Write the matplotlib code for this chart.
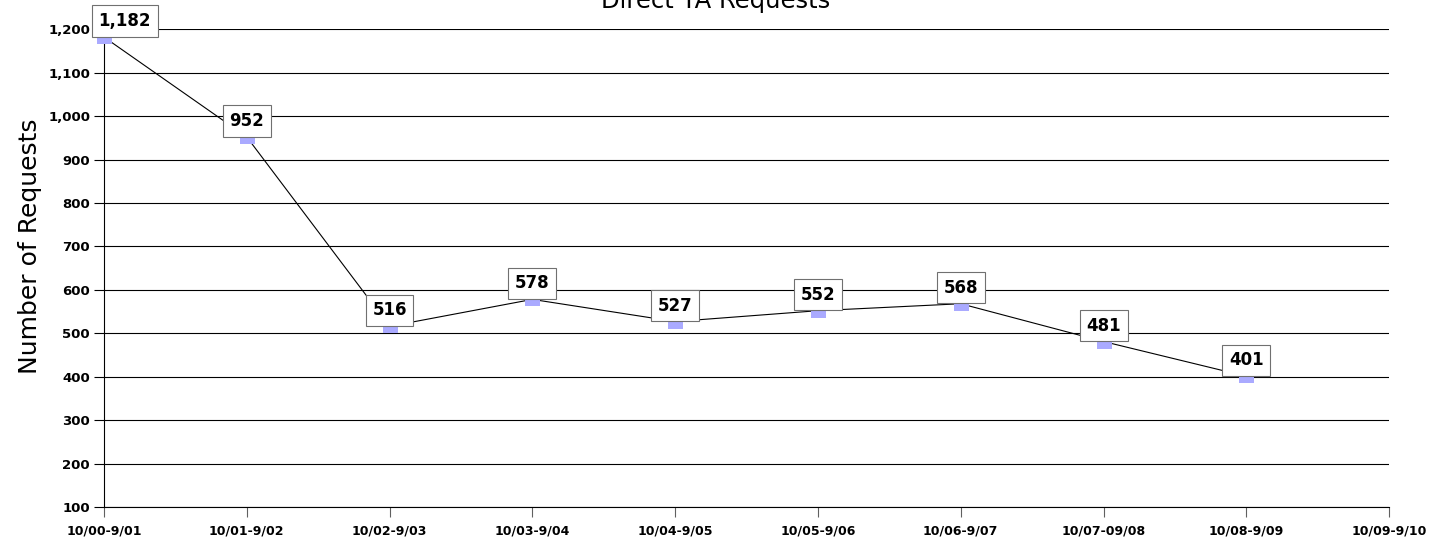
import matplotlib
matplotlib.use("Agg")
import matplotlib.pyplot as plt
from matplotlib.ticker import StrMethodFormatter

# data
periods = ["10/00-9/01", "10/01-9/02", "10/02-9/03", "10/03-9/04", "10/04-9/05",
           "10/05-9/06", "10/06-9/07", "10/07-09/08", "10/08-9/09", "10/09-9/10"]
requests = [1182, 952, 516, 578, 527, 552, 568, 481, 401]
yticks = [100, 200, 300, 400, 500, 600, 700, 800, 900, 1000, 1100, 1200]

fig = plt.figure(figsize=(14.44, 5.41), dpi=100)
ax = fig.add_axes([0.072, 0.0628, 0.890, 0.8832])

# excel style marker: flat box hanging just below the point
marker_verts = [(-1, 0), (1, 0), (1, -0.9), (-1, -0.9), (-1, 0)]
xs = list(range(len(requests)))
ax.plot(xs, requests, color="black", linewidth=0.8, marker=marker_verts,
        markersize=10.8, markerfacecolor="#aaaaff", markeredgewidth=0,
        clip_on=False, zorder=3)

for i, v in enumerate(requests):
    dx = 15 if i == 0 else 0
    ax.annotate(f"{v:,}", (i, v), xytext=(dx, 5), textcoords="offset points",
                ha="center", va="bottom", fontsize=12, fontweight="bold",
                bbox=dict(boxstyle="square,pad=0.4", facecolor="white",
                          edgecolor="#707070", linewidth=0.8),
                zorder=4, annotation_clip=False)

ax.set_xlim(0, 9)
ax.set_ylim(100, 1200)
ax.set_xticks(range(len(periods)))
ax.set_xticklabels(periods, fontsize=9, fontweight="bold")
ax.set_yticks(yticks)
ax.yaxis.set_major_formatter(StrMethodFormatter("{x:,.0f}"))
for lab in ax.get_yticklabels():
    lab.set_fontsize(9.5)
    lab.set_fontweight("bold")

ax.tick_params(axis="y", length=7, width=0.8, pad=3)
ax.tick_params(axis="x", length=7.5, width=0.8, pad=5, color="#606060")
ax.yaxis.grid(True, color="black", linewidth=0.8)
ax.set_axisbelow(True)
for side in ["top", "right"]:
    ax.spines[side].set_visible(False)
ax.spines["left"].set_linewidth(0.8)
ax.spines["bottom"].set_linewidth(0.8)

fig.text(30 / 1444, 1 - 246 / 541, "Number of Requests", rotation=90,
         ha="center", va="center", fontsize=18)
fig.text(716 / 1444, 1 - 8 / 541, "Direct TA Requests", ha="center",
         va="baseline", fontsize=17.5)

fig.savefig("out.png", dpi=100)
